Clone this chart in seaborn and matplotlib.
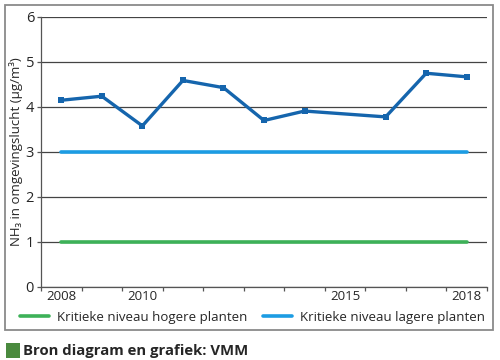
import numpy as np
import pandas as pd
import seaborn as sns
import matplotlib.pyplot as plt
from matplotlib.patches import Rectangle
from matplotlib.lines import Line2D

years = [2008, 2009, 2010, 2011, 2012, 2013, 2014, 2015, 2016, 2017, 2018]
nh3 = [4.15, 4.24, 3.58, 4.59, 4.43, 3.70, 3.91, np.nan, 3.78, 4.75, 4.67]
level_high_plants = [1.0] * len(years)
level_low_plants = [3.0] * len(years)
tick_years = [2008, 2010, 2015, 2018]
y_ticks = [0, 1, 2, 3, 4, 5, 6]

label_high = "Kritieke niveau hogere planten"
label_low = "Kritieke niveau lagere planten"
ylabel = "NH\u2083 in omgevingslucht (µg/m\u00b3)"
source = "Bron diagram en grafiek: VMM"

col_line = "#1565ad"
col_low = "#1c9ce3"
col_high = "#3db158"
col_src = "#4a8a3e"

sns.set_style("white")
plt.rcParams["font.family"] = ["Open Sans", "DejaVu Sans"]

df = pd.DataFrame({"year": years, "nh3": nh3,
                   "high": level_high_plants, "low": level_low_plants})
meas = df.dropna(subset=["nh3"])

fig = plt.figure(figsize=(5, 3.6), dpi=100)
ax = fig.add_axes([0.082, 0.2028, 0.892, 0.75])

sns.lineplot(data=df, x="year", y="high", color=col_high, lw=2.6, ax=ax)
sns.lineplot(data=df, x="year", y="low", color=col_low, lw=2.6, ax=ax)
sns.lineplot(data=meas, x="year", y="nh3", color=col_line, lw=2.4,
             marker="s", markersize=5, markeredgewidth=0, ax=ax)

ax.set_xlim(years[0] - 0.5, years[-1] + 0.5)
ax.set_ylim(0, 6)
ax.set_yticks(y_ticks)
ax.yaxis.grid(True, color="#444444", lw=0.9)
ax.set_axisbelow(True)

ax.set_xticks(tick_years)
ax.set_xticks(np.arange(years[0] - 0.5, years[-1] + 1), minor=True)
ax.tick_params(axis="x", which="major", length=0, labelsize=9.5, pad=2)
ax.tick_params(axis="x", which="minor", length=3, width=0.9, color="#555555", direction="out")
ax.tick_params(axis="y", length=3, width=0.9, color="#555555", labelsize=10.5, pad=2)
ax.xaxis.set_ticks_position("bottom")
ax.yaxis.set_ticks_position("left")

for s in ["top", "right"]:
    ax.spines[s].set_visible(False)
for s in ["left", "bottom"]:
    ax.spines[s].set_color("#555555")
    ax.spines[s].set_linewidth(0.9)

ax.set_xlabel("")
ax.set_ylabel(ylabel, fontsize=9.5, labelpad=2)

# outer frame around the chart
fig.patches.append(Rectangle((0.01, 0.0833), 0.976, 0.903, transform=fig.transFigure,
                             fill=False, edgecolor="#8a8a8a", lw=1.3))

handles = [Line2D([], [], color=col_high, lw=2.6), Line2D([], [], color=col_low, lw=2.6)]
fig.legend(handles, [label_high, label_low], loc="center", bbox_to_anchor=(0.505, 0.119),
           ncol=2, frameon=False, fontsize=9.5, handlelength=2.2, handletextpad=0.6,
           columnspacing=1.2)

fig.patches.append(Rectangle((0.012, 0.006), 0.028, 0.042, transform=fig.transFigure,
                             facecolor=col_src, edgecolor="none"))
fig.text(0.046, 0.026, source, fontsize=10.7, fontweight="bold", va="center", ha="left")

fig.savefig("out.png", dpi=100)
